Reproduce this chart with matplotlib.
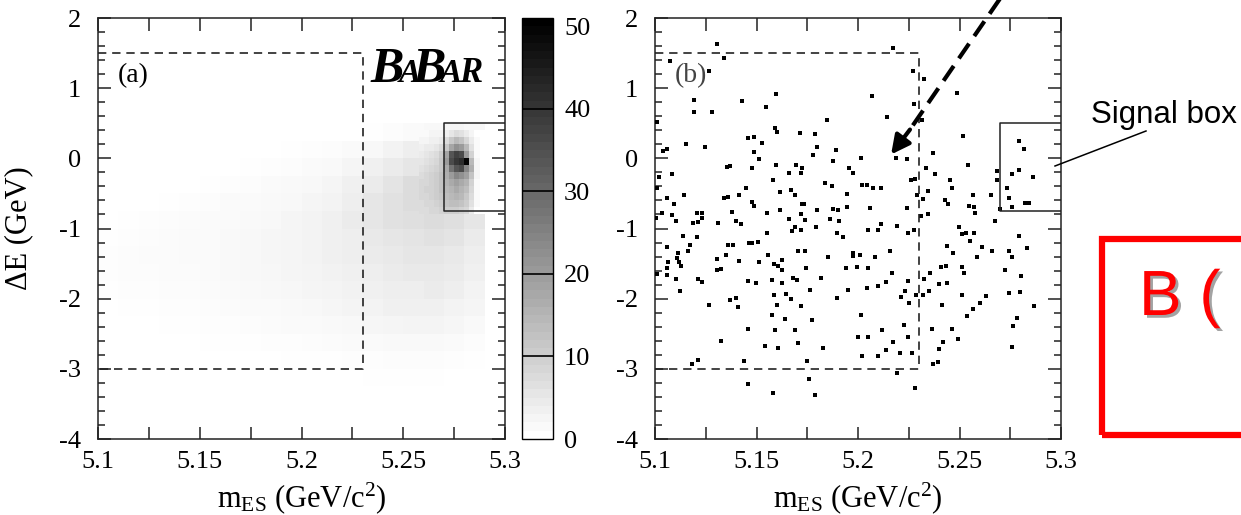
import numpy as np
import matplotlib
matplotlib.use("Agg")
import matplotlib.pyplot as plt
from matplotlib.colors import LinearSegmentedColormap, Normalize
from matplotlib.patches import Rectangle, FancyArrowPatch
from matplotlib.lines import Line2D
import matplotlib.cm as cm
import matplotlib.patheffects as pe
from matplotlib.ticker import MultipleLocator, FixedLocator, FuncFormatter

plt.rcParams['font.family'] = ['Liberation Serif', 'DejaVu Serif']
plt.rcParams['mathtext.fontset'] = 'custom'
plt.rcParams['mathtext.rm'] = 'Liberation Serif'
plt.rcParams['mathtext.it'] = 'Liberation Serif:italic'
plt.rcParams['axes.unicode_minus'] = False

W, H = 1241, 515

# ---------------- data: panel (a) 2D histogram ----------------
# background cells (mean entries per bin): mES 5.10..5.29 step 0.01,
# dE rows listed top (0.25..0.5) to bottom (-3.25..-3.0)
bg_mes_edges = [5.10, 5.11, 5.12, 5.13, 5.14, 5.15, 5.16, 5.17, 5.18, 5.19,
                5.20, 5.21, 5.22, 5.23, 5.24, 5.25, 5.26, 5.27, 5.28, 5.29]
bg_de_top_edges = [0.5, 0.25, 0.0, -0.25, -0.5, -0.75, -1.0, -1.25, -1.5, -1.75,
                   -2.0, -2.25, -2.5, -2.75, -3.0, -3.25]
bg_counts = [
    [0, 0, 0, 0, 0, 0, 0, 0, 0, 0, 0, 0, 0, 0.3, 0.6, 1, 1.5, 2, 1.5],
    [0, 0, 0, 0, 0, 0, 0, 0, 0, 0.3, 0.5, 0.7, 1, 1.5, 2.5, 3.5, 4.5, 5, 4],
    [0, 0, 0, 0, 0, 0, 0, 0.3, 0.5, 0.7, 1, 1.3, 2, 3, 4, 5, 6, 7, 5],
    [0, 0, 0, 0, 0, 0.3, 0.5, 0.7, 1, 1.2, 1.5, 2, 3, 4, 5.5, 7, 8, 8, 6],
    [0, 0, 0, 0.3, 0.5, 0.7, 1, 1, 1.3, 1.5, 2, 2.5, 3.5, 5, 6, 7, 8, 8, 6],
    [0, 0.3, 0.5, 0.6, 0.8, 1, 1, 1.3, 1.5, 2, 2.5, 3, 4, 5, 6, 6.5, 7, 6.5, 5],
    [0.3, 0.5, 0.6, 0.8, 1, 1, 1.3, 1.5, 1.8, 2, 2.5, 3, 3.5, 4.5, 5, 5.5, 6, 5.5, 4],
    [0.5, 0.6, 0.8, 0.8, 1, 1, 1.3, 1.5, 1.8, 2, 2.5, 3, 3.5, 4, 4.5, 5, 5, 4.5, 3.5],
    [0.5, 0.6, 0.7, 0.8, 0.8, 1, 1.2, 1.4, 1.6, 2, 2.2, 2.6, 3, 3.5, 4, 4.5, 4.5, 4, 3],
    [0.3, 0.4, 0.5, 0.6, 0.7, 0.8, 1, 1.2, 1.4, 1.6, 2, 2.2, 2.6, 3, 3.5, 3.5, 4, 3.5, 2.5],
    [0, 0.2, 0.3, 0.4, 0.5, 0.6, 0.8, 1, 1, 1.2, 1.5, 1.8, 2.2, 2.5, 3, 3, 3, 2.5, 2],
    [0, 0, 0, 0.2, 0.3, 0.4, 0.5, 0.6, 0.8, 1, 1, 1.2, 1.5, 1.8, 2, 2.2, 2.2, 1.8, 1.2],
    [0, 0, 0, 0, 0, 0.2, 0.3, 0.3, 0.4, 0.5, 0.6, 0.8, 1, 1, 1.2, 1.2, 1.2, 1, 0.6],
    [0, 0, 0, 0, 0, 0, 0, 0, 0, 0.2, 0.3, 0.3, 0.5, 0.5, 0.6, 0.6, 0.6, 0.5, 0.3],
    [0, 0, 0, 0, 0, 0, 0, 0, 0, 0, 0, 0, 0, 0.2, 0.3, 0.3, 0.2, 0, 0],
]
# fine cells around the signal peak: mES step 0.0025, dE step 0.1 (rows top to bottom)
pk_mes_edges = [5.2575, 5.26, 5.2625, 5.265, 5.2675, 5.27, 5.2725, 5.275,
                5.2775, 5.28, 5.2825, 5.285, 5.2875, 5.29]
pk_de_top_edges = [0.4, 0.3, 0.2, 0.1, 0.0, -0.1, -0.2, -0.3, -0.4, -0.5, -0.6, -0.7, -0.8]
pk_counts = [
    [1, 1, 2, 2, 2, 3, 5, 7, 6, 4, 2, 0, 0],
    [2, 2, 3, 3, 4, 7, 11, 14, 12, 8, 4, 1, 0],
    [3, 4, 4, 5, 7, 11, 18, 22, 20, 14, 6, 1, 0],
    [4, 5, 6, 7, 10, 18, 34, 38, 36, 20, 9, 1, 0],
    [5, 6, 7, 8, 11, 20, 36, 40, 42, 50, 14, 2, 0],
    [6, 7, 8, 9, 11, 17, 28, 34, 36, 24, 16, 2, 0],
    [7, 8, 9, 10, 12, 16, 20, 24, 22, 19, 12, 2, 0],
    [8, 8, 9, 10, 12, 15, 17, 19, 17, 15, 9, 1, 0],
    [8, 9, 9, 10, 12, 14, 15, 17, 15, 13, 8, 1, 0],
    [8, 8, 9, 10, 11, 13, 14, 15, 14, 11, 7, 1, 0],
    [7, 8, 8, 9, 10, 12, 13, 13, 12, 10, 6, 1, 0],
    [7, 7, 8, 8, 9, 10, 10, 10, 9, 8, 4, 0, 0],
]
cbar_ticks = [0, 10, 20, 30, 40, 50]

# ---------------- data: panel (b) events ----------------
mes_b = [5.1304, 5.1340, 5.1074, 5.1268, 5.1594, 5.1194, 5.1427, 5.1547, 5.1194, 5.1281,
         5.1846, 5.1011, 5.1590, 5.1603, 5.1714, 5.1787, 5.1456, 5.1489, 5.1529, 5.1153,
         5.1246, 5.1800, 5.1041, 5.1061, 5.1489, 5.1890, 5.1777, 5.1514, 5.1875, 5.1353,
         5.1369, 5.1596, 5.1695, 5.1479, 5.1724, 5.1954, 5.1977, 5.1021, 5.1082, 5.1662,
         5.1721, 5.1580, 5.1836, 5.1870, 5.1447, 5.1008, 5.1616, 5.1668, 5.1691, 5.1143,
         5.1944, 5.1340, 5.1361, 5.1415, 5.1061, 5.1479, 5.1487, 5.1094, 5.1724, 5.1736,
         5.1875, 5.1900, 5.1944, 5.1616, 5.1800, 5.1550, 5.1005, 5.1033, 5.1082, 5.1205,
         5.1232, 5.1230, 5.1377, 5.1718, 5.1862, 5.1906, 5.1103, 5.1185, 5.1213, 5.1310,
         5.1399, 5.1422, 5.1662, 5.1739, 5.1791, 5.1675, 5.1690, 5.1719, 5.1550, 5.1140,
         5.1209, 5.1895, 5.1928, 5.1172, 5.1164, 5.1361, 5.1386, 5.1464, 5.1477, 5.1509,
         5.1061, 5.1115, 5.1350, 5.1304, 5.1558, 5.1586, 5.1607, 5.1628, 5.1624, 5.1415,
         5.1514, 5.1703, 5.1739, 5.1851, 5.1974, 5.1977, 5.1066, 5.1107, 5.1120, 5.1126,
         5.1061, 5.1061, 5.1008, 5.1103, 5.1123, 5.1307, 5.1323, 5.1210, 5.1233, 5.1460,
         5.1498, 5.1575, 5.1626, 5.1682, 5.1698, 5.1742, 5.1819, 5.1939, 5.1993, 5.1764,
         5.1951, 5.1369, 5.1397, 5.1409, 5.1586, 5.1645, 5.1670, 5.1718, 5.1898, 5.1268,
         5.1600, 5.1575, 5.1642, 5.1773, 5.1460, 5.1591, 5.1691, 5.1323, 5.1542, 5.1604,
         5.1704, 5.1829, 5.2000, 5.1181, 5.1213, 5.1438, 5.1750, 5.1458, 5.1757, 5.1580,
         5.1787,
         5.2174, 5.2273, 5.2327, 5.2067, 5.2486, 5.2278, 5.2141, 5.2314, 5.2519, 5.2368,
         5.2013, 5.2185, 5.2240, 5.2333, 5.2540, 5.2379, 5.2022, 5.2043, 5.2076, 5.2112,
         5.2261, 5.2281, 5.2454, 5.2462, 5.2347, 5.2289, 5.2319, 5.2429, 5.2442, 5.2565,
         5.2547, 5.2571, 5.2576, 5.2655, 5.2686, 5.2685, 5.2057, 5.2243, 5.2309, 5.2347,
         5.2675, 5.2047, 5.2097, 5.2113, 5.2190, 5.2248, 5.2277, 5.2499, 5.2514, 5.2530,
         5.2570, 5.2552, 5.2437, 5.2470, 5.2609, 5.2585, 5.2660, 5.2744, 5.2757, 5.2795,
         5.2831, 5.2010, 5.2084, 5.2158, 5.2051, 5.2166, 5.2409, 5.2432, 5.2514, 5.2524,
         5.2355, 5.2325, 5.2724, 5.2801, 5.2043, 5.2100, 5.2136, 5.2248, 5.2232, 5.2212,
         5.2253, 5.2284, 5.2322, 5.2350, 5.2399, 5.2437, 5.2412, 5.2514, 5.2565, 5.2603,
         5.2632, 5.2539, 5.2742, 5.2799, 5.2868, 5.2783, 5.2762, 5.2015, 5.2228, 5.2363,
         5.2461, 5.2494, 5.2417, 5.2401, 5.2760, 5.2120, 5.2051, 5.2248, 5.2170, 5.2136,
         5.2022, 5.2097, 5.2209, 5.2268, 5.2368, 5.2392, 5.2194, 5.2282, 5.2793, 5.2818,
         5.2793, 5.2757, 5.2862, 5.2736, 5.2744, 5.2757, 5.2823, 5.2842, 5.2700]
de_b = [1.630, 1.431, 1.384, 1.251, 0.919, 0.825, 0.815, 0.730, 0.664, 0.654,
        0.540, 0.512, 0.436, 0.370, 0.355, 0.341, 0.284, 0.303, 0.218, 0.209,
        0.161, 0.161, 0.104, 0.137, 0.095, 0.114, 0.047, -0.014, -0.038, -0.123,
        -0.104, -0.095, -0.095, -0.133, -0.142, -0.142, -0.209, -0.265, -0.227, -0.209,
        -0.209, -0.308, -0.351, -0.398, -0.427, -0.417, -0.483, -0.445, -0.521, -0.521,
        -0.502, -0.559, -0.550, -0.521, -0.569, -0.616, -0.673, -0.654, -0.649, -0.649,
        -0.725, -0.735, -0.687, -0.739, -0.739, -0.782, -0.844, -0.782, -0.806, -0.782,
        -0.782, -0.844, -0.763, -0.787, -0.858, -0.891, -0.891, -0.915, -0.910, -0.924,
        -0.891, -0.929, -0.867, -0.872, -0.972, -1.033, -0.976, -1.024, -1.071, -1.100,
        -1.118, -1.062, -1.118, -1.237, -1.327, -1.242, -1.237, -1.213, -1.204, -1.190,
        -1.270, -1.355, -1.379, -1.436, -1.374, -1.507, -1.531, -1.450, -1.592, -1.469,
        -1.479, -1.318, -1.318, -1.403, -1.351, -1.398, -1.474, -1.427, -1.483, -1.540,
        -1.564, -1.659, -1.649, -1.725, -1.886, -1.592, -1.578, -1.725, -1.763, -1.744,
        -1.782, -1.730, -1.773, -1.711, -1.730, -1.559, -1.706, -1.564, -1.555, -1.877,
        -1.877, -2.014, -1.986, -2.114, -1.948, -1.934, -2.005, -2.100, -1.991, -2.085,
        -2.085, -2.227, -2.294, -2.299, -2.427, -2.445, -2.445, -2.607, -2.673, -2.706,
        -2.635, -2.706, -2.550, -2.938, -2.872, -2.882, -2.882, -3.213, -3.147, -3.346,
        -3.370,
        1.573, 1.251, 1.137, 0.886, 0.924, 0.768, 0.588, 0.540, 0.313, 0.076,
        0.000, 0.000, -0.014, -0.133, -0.095, -0.227, -0.379, -0.379, -0.417, -0.427,
        -0.313, -0.294, -0.308, -0.417, -0.464, -0.526, -0.573, -0.588, -0.654, -0.526,
        -0.678, -0.687, -0.782, -0.526, -0.180, -0.313, -0.701, -0.711, -0.820, -0.796,
        -0.891, -1.019, -1.019, -0.938, -0.967, -1.071, -1.019, -0.976, -1.081, -1.066,
        -1.066, -1.185, -1.246, -1.355, -1.270, -1.403, -1.318, -1.318, -1.403, -1.104,
        -1.280, -1.374, -1.403, -1.318, -1.564, -1.640, -1.555, -1.536, -1.555, -1.640,
        -1.640, -1.720, -1.592, -1.682, -1.848, -1.815, -1.768, -1.754, -1.896, -1.981,
        -2.066, -1.943, -1.948, -1.896, -1.791, -1.773, -2.090, -1.943, -2.142, -2.066,
        -1.962, -2.242, -1.915, -1.900, -2.100, -2.270, -2.389, -2.227, -2.370, -2.427,
        -2.427, -2.578, -2.611, -2.711, -2.682, -2.445, -2.540, -2.550, -2.616, -2.730,
        -2.815, -2.815, -2.777, -2.768, -2.929, -2.905, -3.062, -3.275, 0.246, 0.137,
        -0.166, -0.227, -0.270, -0.417, -0.569, -0.687, -0.635, -0.635, -0.725]

# region boxes
sideband = (5.10, 5.23, -3.0, 1.5)
signal_box = (5.27, 5.30, -0.75, 0.5)

# ---------------- figure ----------------
fig = plt.figure(figsize=(W / 100, H / 100), dpi=100)


def fx(px):
    return px / W


def fy(py):
    return 1 - py / H


axa = fig.add_axes([fx(98), fy(439), (505 - 98) / W, (439 - 18) / H])
cax = fig.add_axes([fx(522), fy(439), (553 - 522) / W, (439 - 18) / H])
axb = fig.add_axes([fx(655), fy(439), (1061 - 655) / W, (439 - 18) / H])

cmap = LinearSegmentedColormap.from_list('bw', ['#ffffff', '#000000'], N=256)
cmap_bar = LinearSegmentedColormap.from_list('bw51', ['#ffffff', '#000000'], N=51)
norm = Normalize(0, 51)

bgC = np.flipud(np.array(bg_counts, dtype=float))
bgY = np.array(bg_de_top_edges)[::-1]
axa.pcolormesh(bg_mes_edges, bgY, bgC, cmap=cmap, norm=norm,
               edgecolors='none', antialiased=False, zorder=1)
pkC = np.flipud(np.array(pk_counts, dtype=float))
pkY = np.array(pk_de_top_edges)[::-1]
axa.pcolormesh(pk_mes_edges, pkY, pkC, cmap=cmap, norm=norm,
               edgecolors='none', antialiased=False, zorder=1.1)

axb.scatter(mes_b, de_b, marker='s', s=12, c='k', linewidths=0, zorder=3)

for ax in (axa, axb):
    ax.set_xlim(5.1, 5.3)
    ax.set_ylim(-4, 2)
    x0, x1, y0, y1 = sideband
    ax.plot([x0, x1, x1, x0], [y1, y1, y0, y0], color='#222222', lw=1.2,
            dashes=(5, 3.5), zorder=4)
    s0, s1, t0, t1 = signal_box
    ax.plot([s1, s0, s0, s1], [t1, t1, t0, t0], color='#222222', lw=1.1, zorder=4)
    ax.xaxis.set_major_locator(FixedLocator([5.1, 5.15, 5.2, 5.25, 5.3]))
    ax.xaxis.set_minor_locator(FixedLocator([5.125, 5.175, 5.225, 5.275]))
    ax.yaxis.set_major_locator(MultipleLocator(1))
    ax.yaxis.set_minor_locator(MultipleLocator(0.2))
    ax.xaxis.set_major_formatter(FuncFormatter(lambda v, p: ('%g' % round(v, 3))))
    ax.yaxis.set_major_formatter(FuncFormatter(lambda v, p: ('%d' % round(v))))
    ax.tick_params(which='both', direction='in', top=True, right=True,
                   width=1.1, labelsize=19, color='#222222')
    ax.tick_params(axis='x', which='both', length=9, pad=9)
    ax.tick_params(axis='y', which='major', length=9.5, pad=12)
    ax.tick_params(axis='y', which='minor', length=5)
    for sp in ax.spines.values():
        sp.set_linewidth(1.1)
        sp.set_color('#222222')
    ax.set_xlabel(r'm$_{\rm ES}$ (GeV/c$^{2}$)', fontsize=22, va='baseline')
    ax.xaxis.set_label_coords(0.5, -0.163)

axa.set_ylabel('ΔE (GeV)', fontsize=22)
axa.yaxis.set_label_coords(-0.16, 0.5)

axa.text(0.049, 0.862, '(a)', transform=axa.transAxes, fontsize=20, va='center', ha='left')
axb.text(0.049, 0.862, '(b)', transform=axb.transAxes, fontsize=20, va='center', ha='left',
         color='#444444')

# colorbar (banded scale)
sm = cm.ScalarMappable(norm=norm, cmap=cmap_bar)
cb = fig.colorbar(sm, cax=cax, ticks=cbar_ticks)
cb.outline.set_linewidth(1.0)
cax.tick_params(length=0, labelsize=19, pad=8)
for v in cbar_ticks[1:-1]:
    cax.axhline(v, color='k', lw=1.2)

# BaBar logo
logo = [('B', 370, 36), ('A', 399, 24), ('B', 412, 36), ('A', 440, 24), ('R', 459, 25)]
for ch, px, fs in logo:
    fig.text(fx(px), fy(82), ch, fontsize=fs, fontweight='bold', fontstyle='italic',
             va='baseline', ha='left', family=['Liberation Serif'])

# dashed arrow in panel (b)
axb.plot([5.2729, 5.2256], [2.40, 0.41], color='k', lw=3, dashes=(4.3, 2.2),
         clip_on=False, zorder=5)
arr = FancyArrowPatch((5.2256, 0.41), (5.2163, 0.055),
                      arrowstyle='-|>,head_length=0.75,head_width=0.38',
                      mutation_scale=15, color='k', lw=3, shrinkA=0, shrinkB=0, zorder=5)
axb.add_patch(arr)

# Signal box annotation
fig.text(fx(1091), fy(123), 'Signal box', fontsize=22.5, family=['Liberation Sans'],
         va='baseline', ha='left', color='black')
fig.add_artist(Line2D([fx(1146), fx(1055)], [fy(131), fy(166)], color='black', lw=1.1))

# red box partially visible
fig.add_artist(Rectangle((fx(1102), fy(435)), 0.2, (435 - 239) / H, fill=False,
                         edgecolor='#ff0000', lw=4.5, transform=fig.transFigure))
fig.text(fx(1139), fy(315), 'B (', fontsize=46, family=['Liberation Sans'], color='#ff0000',
         va='baseline', ha='left',
         path_effects=[pe.SimplePatchShadow(offset=(2, -2), shadow_rgbFace='#999999', alpha=0.9),
                       pe.Normal()])

fig.savefig('out.png', dpi=100)
